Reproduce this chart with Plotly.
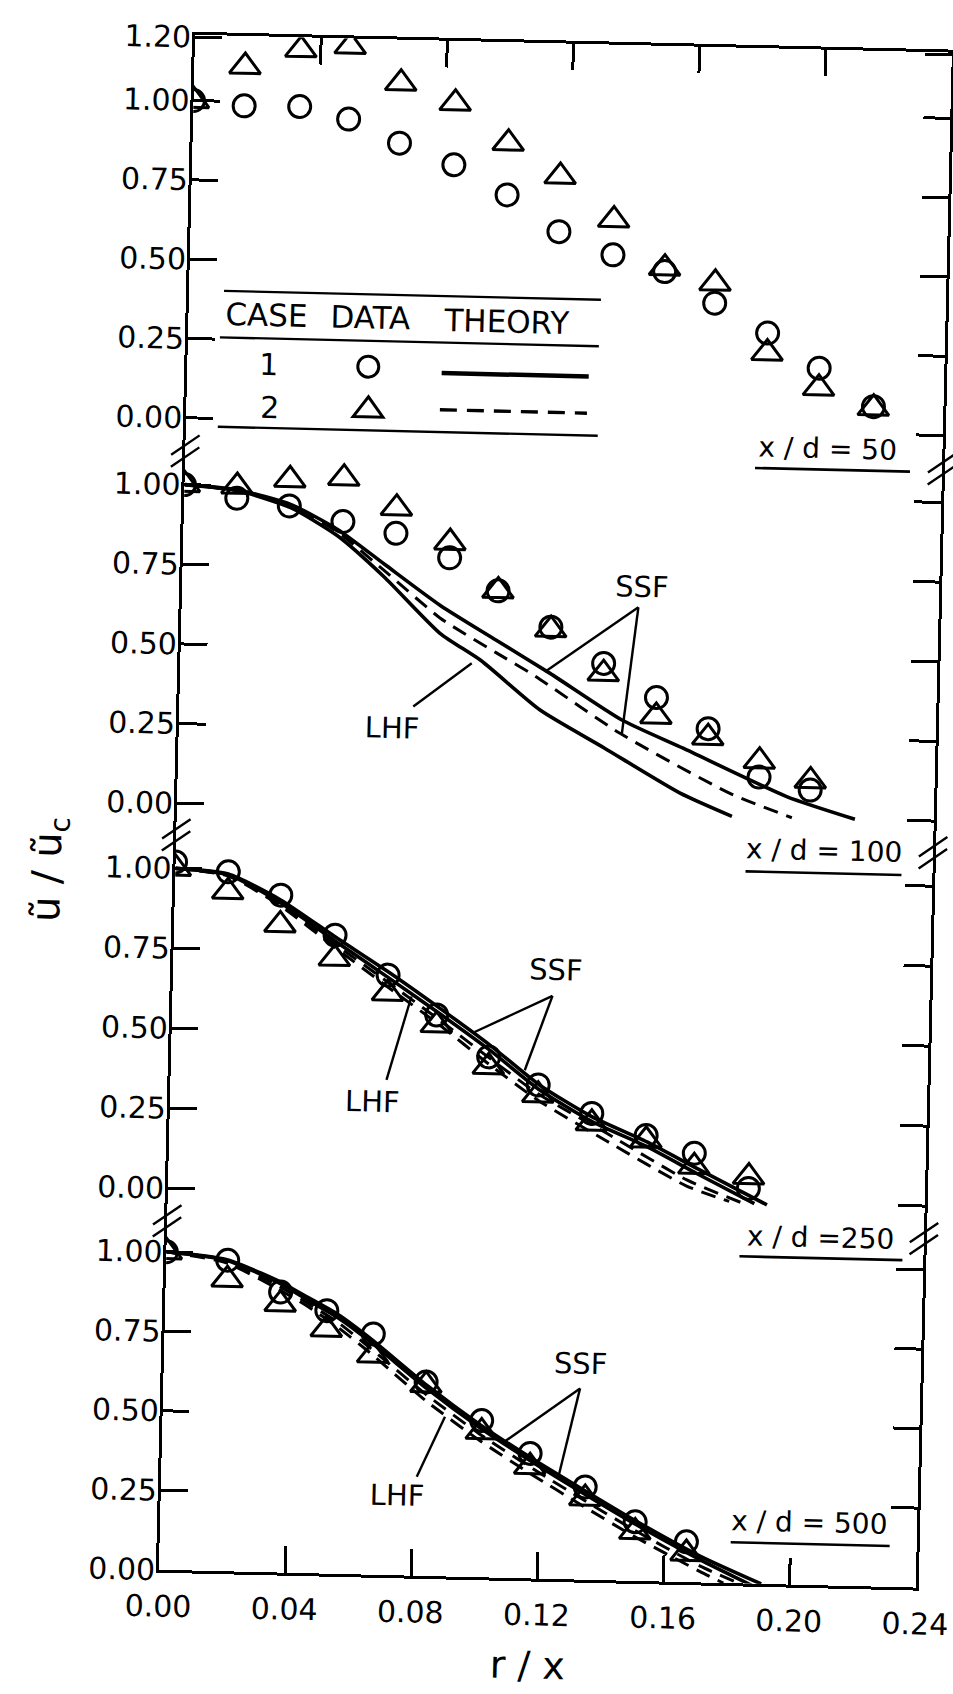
import plotly.graph_objects as go

W, H = 953, 1694          # page size
FIG_W, FIG_H = 1000, 1760  # drawing canvas, a little larger so edge labels are not cut

# ---------------- measured profiles (r/x, u/uc) ----------------
# x/d = 50
r_50 = [0.0, 0.0161, 0.0337, 0.0493, 0.0656, 0.0830, 0.1001, 0.1168, 0.1341, 0.1506, 0.1667, 0.1837, 0.2003, 0.2178]
case1_50 = [1.00, 0.987, 0.989, 0.953, 0.881, 0.817, 0.726, 0.614, 0.545, 0.496, 0.400, 0.310, 0.203, 0.086]
case2_50 = [1.00, 1.111, 1.168, 1.182, 1.070, 1.011, 0.889, 0.788, 0.655, 0.507, 0.463, 0.247, 0.140, 0.081]

# x/d = 100
r_100 = [0.0, 0.0167, 0.0334, 0.0505, 0.0674, 0.0846, 0.1002, 0.1172, 0.1342, 0.1512, 0.1678, 0.1843, 0.2006]
case1_100 = [1.00, 0.961, 0.941, 0.896, 0.863, 0.790, 0.690, 0.580, 0.470, 0.367, 0.273, 0.125, 0.088]
case2_100 = [1.00, 0.998, 1.023, 1.032, 0.942, 0.838, 0.690, 0.572, 0.438, 0.308, 0.245, 0.175, 0.117]

# x/d = 250
r_250 = [0.0, 0.0168, 0.0336, 0.0511, 0.0682, 0.0839, 0.1007, 0.1166, 0.1338, 0.1512, 0.1666, 0.1840]
case1_250 = [1.02, 0.993, 0.924, 0.803, 0.682, 0.561, 0.434, 0.350, 0.265, 0.200, 0.148, 0.042]
case2_250 = [1.00, 0.931, 0.831, 0.730, 0.625, 0.529, 0.403, 0.318, 0.234, 0.185, 0.106, 0.078]

# x/d = 500
r_500 = [0.0, 0.0195, 0.0365, 0.0513, 0.0662, 0.0833, 0.1012, 0.1168, 0.1345, 0.1506, 0.1670]
case1_500 = [1.00, 0.978, 0.882, 0.827, 0.757, 0.610, 0.493, 0.393, 0.292, 0.186, 0.127]
case2_500 = [1.00, 0.917, 0.844, 0.768, 0.690, 0.600, 0.457, 0.351, 0.256, 0.154, 0.090]

# ---------------- theory curves ----------------
# x/d = 100
ssf1_100_r = [0, 0.017, 0.034, 0.049, 0.064, 0.082, 0.100, 0.1173, 0.1404, 0.160, 0.1932, 0.215]
ssf1_100 = [1.0, 0.987, 0.945, 0.870, 0.765, 0.640, 0.535, 0.435, 0.294, 0.210, 0.066, 0.0]
ssf2_100_r = [0, 0.017, 0.034, 0.049, 0.064, 0.0821, 0.100, 0.112, 0.1399, 0.1752, 0.195]
ssf2_100 = [1.0, 0.985, 0.940, 0.862, 0.745, 0.600, 0.496, 0.429, 0.252, 0.072, 0.0]
lhf1_100_r = [0, 0.017, 0.034, 0.049, 0.064, 0.0821, 0.0953, 0.1144, 0.1350, 0.1594, 0.176]
lhf1_100 = [1.0, 0.985, 0.935, 0.850, 0.725, 0.5525, 0.470, 0.319, 0.205, 0.069, 0.0]

# x/d = 250
ssf1_250_r = [0, 0.0168, 0.0336, 0.0511, 0.0682, 0.0849, 0.101, 0.117, 0.1338, 0.1515, 0.1675, 0.190]
ssf1_250 = [1.0, 0.986, 0.909, 0.798, 0.6925, 0.582, 0.471, 0.350, 0.255, 0.180, 0.101, -0.008]
lhf1_250_r = [0, 0.0168, 0.0336, 0.0511, 0.0682, 0.0849, 0.101, 0.117, 0.1338, 0.1515, 0.1675, 0.186]
lhf1_250 = [1.0, 0.984, 0.900, 0.785, 0.675, 0.565, 0.455, 0.335, 0.240, 0.165, 0.085, -0.005]
ssf2_250_r = [0, 0.0168, 0.0336, 0.0511, 0.0682, 0.0849, 0.101, 0.117, 0.1387, 0.1644, 0.1825]
ssf2_250 = [1.0, 0.982, 0.895, 0.775, 0.660, 0.545, 0.430, 0.320, 0.204, 0.064, -0.005]
lhf2_250_r = [0, 0.0168, 0.0336, 0.0511, 0.0682, 0.0849, 0.101, 0.117, 0.1387, 0.1644, 0.178]
lhf2_250 = [1.0, 0.980, 0.890, 0.765, 0.645, 0.530, 0.410, 0.300, 0.180, 0.045, 0.0]

# x/d = 500
ssf1_500_r = [0, 0.019, 0.035, 0.045, 0.055, 0.065, 0.0835, 0.1007, 0.1178, 0.1339, 0.150, 0.1714, 0.191]
ssf1_500 = [1.0, 0.980, 0.920, 0.868, 0.815, 0.745, 0.600, 0.480, 0.375, 0.283, 0.193, 0.083, 0.0]
lhf1_500_r = [0, 0.019, 0.035, 0.045, 0.055, 0.065, 0.0835, 0.1007, 0.1178, 0.1339, 0.150, 0.1714, 0.188]
lhf1_500 = [1.0, 0.978, 0.915, 0.860, 0.805, 0.735, 0.590, 0.470, 0.365, 0.272, 0.182, 0.072, -0.005]
ssf2_500_r = [0, 0.019, 0.035, 0.045, 0.055, 0.065, 0.0835, 0.1007, 0.1178, 0.1339, 0.150, 0.1714, 0.184]
ssf2_500 = [1.0, 0.975, 0.905, 0.850, 0.790, 0.715, 0.570, 0.450, 0.345, 0.252, 0.162, 0.052, 0.0]
lhf2_500_r = [0, 0.019, 0.035, 0.045, 0.055, 0.065, 0.0835, 0.1007, 0.1178, 0.1339, 0.150, 0.1714, 0.179]
lhf2_500 = [1.0, 0.970, 0.895, 0.840, 0.775, 0.700, 0.550, 0.430, 0.325, 0.232, 0.142, 0.035, 0.0]

x_ticks = [0.0, 0.04, 0.08, 0.12, 0.16, 0.20, 0.24]
x_tick_text = ["0.00", "0.04", "0.08", "0.12", "0.16", "0.20", "0.24"]
y_ticks_top = [0.0, 0.25, 0.5, 0.75, 1.0, 1.2]
y_tick_text_top = ["0.00", "0.25", "0.50", "0.75", "1.00", "1.20"]
y_ticks = [0.0, 0.25, 0.5, 0.75, 1.0]
y_tick_text = ["0.00", "0.25", "0.50", "0.75", "1.00"]

# ---------------- geometry (pixels) ----------------
FONT = "DejaVu Sans"
X_LEFT, X_RIGHT = 176, 933
# (top px, bottom px, y-range) for the four stacked panels
PANELS = [
    (41.6, 458.0, [-0.105, 1.2074]),
    (458.0, 842.0, [-0.0995, 1.1054]),
    (842.0, 1228.0, [-0.1019, 1.1044]),
    (1228.0, 1577.0, [0.0, 1.0975]),
]


def px(x):
    return x / FIG_W


def py(y):
    return 1 - y / FIG_H


fig = go.Figure()

solid = dict(color="black", width=3.6, shape="spline", smoothing=0.6)
dashed = dict(color="black", width=3.0, dash="15px,9px", shape="spline", smoothing=0.6)
circ = dict(symbol="circle-open", size=22, color="black", line=dict(width=3.0, color="black"))
tri = dict(symbol="triangle-up-open", size=27, color="black", line=dict(width=3.0, color="black"))


def add_panel(xref, yref, r, c1, c2, curves):
    for xr, yv, style in curves:
        fig.add_trace(go.Scatter(x=xr, y=yv, mode="lines", line=style, xaxis=xref, yaxis=yref,
                                 showlegend=False, hoverinfo="skip"))
    fig.add_trace(go.Scatter(x=r, y=c1, mode="markers", marker=circ, xaxis=xref, yaxis=yref, showlegend=False))
    fig.add_trace(go.Scatter(x=r, y=c2, mode="markers", marker=tri, xaxis=xref, yaxis=yref, showlegend=False))


add_panel("x2", "y", r_50, case1_50, case2_50, [])
add_panel("x", "y2", r_100, case1_100, case2_100, [
    (ssf1_100_r, ssf1_100, solid), (ssf2_100_r, ssf2_100, dashed), (lhf1_100_r, lhf1_100, solid)])
add_panel("x", "y3", r_250, case1_250, case2_250, [
    (ssf1_250_r, ssf1_250, solid), (lhf1_250_r, lhf1_250, solid),
    (ssf2_250_r, ssf2_250, dashed), (lhf2_250_r, lhf2_250, dashed)])
add_panel("x", "y4", r_500, case1_500, case2_500, [
    (ssf1_500_r, ssf1_500, solid), (lhf1_500_r, lhf1_500, solid),
    (ssf2_500_r, ssf2_500, dashed), (lhf2_500_r, lhf2_500, dashed)])

tickfont = dict(family=FONT, size=30, color="black")
axis_common = dict(showline=True, linecolor="black", linewidth=2.6, ticks="inside", ticklen=27,
                   tickwidth=2.6, tickcolor="black", showgrid=False, zeroline=False, tickfont=tickfont,
                   automargin=False, ticklabeloverflow="allow")

layout_axes = {}
for i, (top, bot, rng) in enumerate(PANELS):
    name = "yaxis" if i == 0 else f"yaxis{i + 1}"
    tv, tt = (y_ticks_top, y_tick_text_top) if i == 0 else (y_ticks, y_tick_text)
    layout_axes[name] = dict(axis_common, domain=[py(bot), py(top)], range=rng, anchor="x",
                             mirror="ticks", tickvals=tv, ticktext=tt, ticklabelstandoff=-5)

layout_axes["xaxis"] = dict(axis_common, domain=[px(X_LEFT), px(X_RIGHT)], range=[0, 0.24], anchor="y4",
                            tickvals=x_ticks, ticktext=x_tick_text, ticklabelstandoff=8)
layout_axes["xaxis2"] = dict(axis_common, domain=[px(X_LEFT), px(X_RIGHT)], range=[0, 0.24], anchor="y",
                             side="top", matches="x", tickvals=x_ticks[1:-1], showticklabels=False)

annotations = []
shapes = []


def text(x, y, s, size=29, angle=0):
    annotations.append(dict(x=px(x), y=py(y), xref="paper", yref="paper", text=s, showarrow=False,
                            textangle=angle, font=dict(family=FONT, size=size, color="black"),
                            xanchor="center", yanchor="middle"))


def seg(x0, y0, x1, y1, width=2.4, dash=None):
    line = dict(color="black", width=width)
    if dash:
        line["dash"] = dash
    shapes.append(dict(type="line", xref="paper", yref="paper", x0=px(x0), y0=py(y0), x1=px(x1), y1=py(y1),
                       line=line))


# legend table in the x/d = 50 panel
seg(211, 297, 588, 297)
seg(208, 343.5, 587, 343.5)
seg(208, 433, 588, 433)
text(254, 320, "CASE", 31)
text(357.5, 320, "DATA", 31)
text(493.6, 321, "THEORY", 31)
text(257, 370, "1", 30)
text(259.6, 413, "2", 30)
shapes.append(dict(type="circle", xref="paper", yref="paper", x0=px(346.5), x1=px(367.5),
                   y0=py(379.8), y1=py(358.8), line=dict(color="black", width=3.0)))
shapes.append(dict(type="path", xref="paper", yref="paper",
                   path=f"M {px(343)},{py(419.5)} L {px(372.8)},{py(419.5)} L {px(357.9)},{py(399.5)} Z",
                   line=dict(color="black", width=3.0)))
seg(430.5, 374, 577.6, 374, width=4.5)
seg(429.6, 410.7, 576.7, 410.7, width=3.4, dash="17px,10px")

# station labels
for cx, cy, label, ux0, ux1, uy in [
    (818, 441, "x / d = 50", 746, 901, 461.5),
    (824, 842, "x / d = 100", 746, 902, 865),
    (829, 1229, "x / d =250", 749, 912, 1250),
    (824.5, 1514, "x / d = 500", 747, 906, 1536),
]:
    text(cx, cy, label, 28)
    seg(ux0, uy, ux1, uy, width=2.6)

# model labels with leader lines
text(635.6, 582.8, "SSF", 29)
seg(632.7, 603.5, 540.9, 670.1)
seg(632.7, 603.5, 619.0, 731.6)
text(389, 730, "LHF", 29)
seg(410, 708, 467.4, 663.4)

text(559, 968, "SSF", 29)
seg(556, 994, 479, 1032)
seg(556, 994, 530, 1069)
text(378, 1104, "LHF", 29)
seg(392, 1082, 415, 998)

text(593, 1361, "SSF", 29)
seg(592.8, 1385.8, 518.3, 1441)
seg(592.8, 1385.8, 573.2, 1474.8)
text(412.6, 1497, "LHF", 29)
seg(431.6, 1478, 458.4, 1417.4)

# axis breaks
for yb in (458, 842, 1228):
    for xb in (X_LEFT, X_RIGHT):
        seg(xb - 14, yb + 4, xb + 14, yb - 16, width=2.4)
        seg(xb - 14, yb + 16, xb + 14, yb - 4, width=2.4)

# axis titles
text(546, 1664, "r / x", 38)
text(50, 880, "ũ / ũ<sub>c</sub>", 40, angle=-90)

fig.update_layout(
    width=FIG_W, height=FIG_H, margin=dict(l=0, r=0, t=0, b=0, autoexpand=False),
    paper_bgcolor="white", plot_bgcolor="rgba(0,0,0,0)",
    annotations=annotations, shapes=shapes, showlegend=False,
    **layout_axes,
)

# the drawing sits slightly turned on the page; the wrapper clips the turned corners
post = """
document.documentElement.style.overflow = 'hidden';
document.body.style.margin = '0';
document.body.style.overflow = 'hidden';
var gd = document.getElementById('{plot_id}');
var wrap = gd.parentElement;
wrap.style.width = '953px';
wrap.style.height = '1694px';
wrap.style.overflow = 'hidden';
wrap.style.position = 'relative';
gd.style.transformOrigin = '476px 847px';
gd.style.transform = 'rotate(1.35deg)';
"""
fig.write_html("out.html", post_script=post)
